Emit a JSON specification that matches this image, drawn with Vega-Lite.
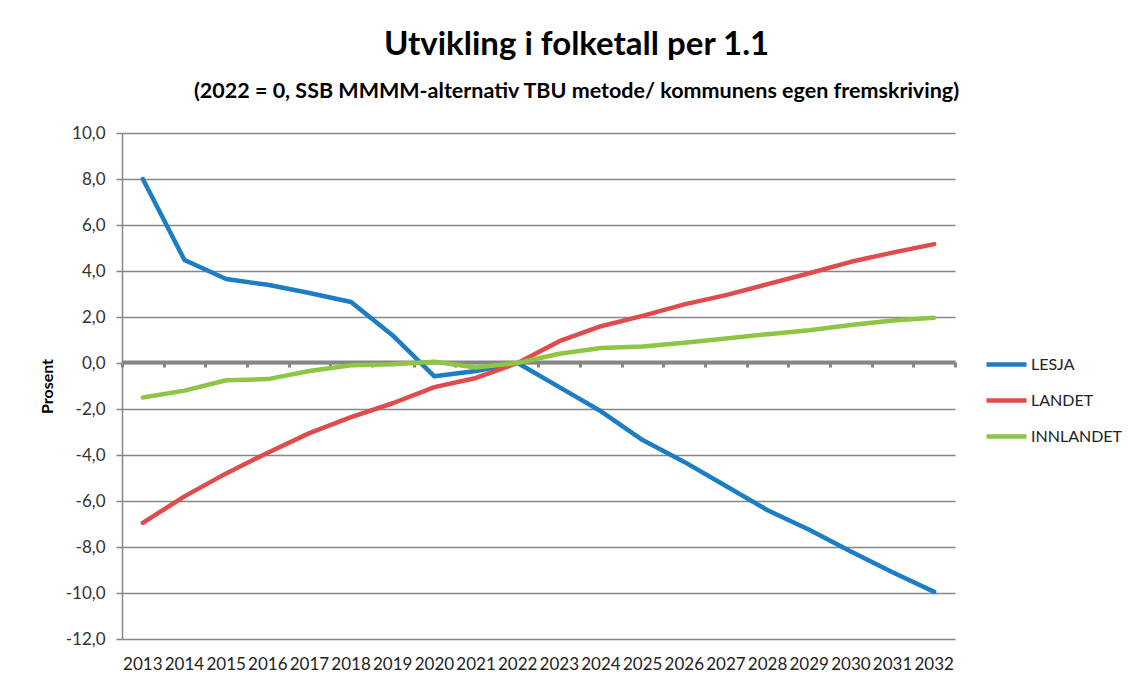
{
  "$schema": "https://vega.github.io/schema/vega-lite/v6.json",
  "width": 833,
  "height": 506,
  "autosize": "none",
  "padding": {"left": 122, "top": 133, "right": 175, "bottom": 45},
  "background": "white",
  "title": {
    "text": "Utvikling i folketall per 1.1",
    "subtitle": "(2022 = 0, SSB MMMM-alternativ TBU metode/ kommunens  egen fremskriving)",
    "anchor": "middle",
    "dx": 38,
    "offset": 22,
    "font": "Lato",
    "fontSize": 33,
    "fontWeight": "bold",
    "color": "#000",
    "subtitleFont": "Lato",
    "subtitleFontSize": 21.5,
    "subtitleFontWeight": "bold",
    "subtitleColor": "#000",
    "subtitlePadding": 19
  },
  "data": {
    "values": [
      {"year": "2013", "serie": "LESJA", "v": 8.0},
      {"year": "2014", "serie": "LESJA", "v": 4.48},
      {"year": "2015", "serie": "LESJA", "v": 3.65},
      {"year": "2016", "serie": "LESJA", "v": 3.4},
      {"year": "2017", "serie": "LESJA", "v": 3.04},
      {"year": "2018", "serie": "LESJA", "v": 2.65},
      {"year": "2019", "serie": "LESJA", "v": 1.2},
      {"year": "2020", "serie": "LESJA", "v": -0.58},
      {"year": "2021", "serie": "LESJA", "v": -0.35},
      {"year": "2022", "serie": "LESJA", "v": 0.0},
      {"year": "2023", "serie": "LESJA", "v": -1.05},
      {"year": "2024", "serie": "LESJA", "v": -2.1},
      {"year": "2025", "serie": "LESJA", "v": -3.35},
      {"year": "2026", "serie": "LESJA", "v": -4.3},
      {"year": "2027", "serie": "LESJA", "v": -5.35},
      {"year": "2028", "serie": "LESJA", "v": -6.4},
      {"year": "2029", "serie": "LESJA", "v": -7.25},
      {"year": "2030", "serie": "LESJA", "v": -8.2},
      {"year": "2031", "serie": "LESJA", "v": -9.1},
      {"year": "2032", "serie": "LESJA", "v": -9.95},
      {"year": "2013", "serie": "LANDET", "v": -6.95},
      {"year": "2014", "serie": "LANDET", "v": -5.8},
      {"year": "2015", "serie": "LANDET", "v": -4.8},
      {"year": "2016", "serie": "LANDET", "v": -3.9},
      {"year": "2017", "serie": "LANDET", "v": -3.05},
      {"year": "2018", "serie": "LANDET", "v": -2.35},
      {"year": "2019", "serie": "LANDET", "v": -1.75},
      {"year": "2020", "serie": "LANDET", "v": -1.05},
      {"year": "2021", "serie": "LANDET", "v": -0.65},
      {"year": "2022", "serie": "LANDET", "v": 0.0},
      {"year": "2023", "serie": "LANDET", "v": 0.95},
      {"year": "2024", "serie": "LANDET", "v": 1.6},
      {"year": "2025", "serie": "LANDET", "v": 2.05},
      {"year": "2026", "serie": "LANDET", "v": 2.55},
      {"year": "2027", "serie": "LANDET", "v": 2.95},
      {"year": "2028", "serie": "LANDET", "v": 3.43},
      {"year": "2029", "serie": "LANDET", "v": 3.9},
      {"year": "2030", "serie": "LANDET", "v": 4.4},
      {"year": "2031", "serie": "LANDET", "v": 4.8},
      {"year": "2032", "serie": "LANDET", "v": 5.17},
      {"year": "2013", "serie": "INNLANDET", "v": -1.5},
      {"year": "2014", "serie": "INNLANDET", "v": -1.2},
      {"year": "2015", "serie": "INNLANDET", "v": -0.75},
      {"year": "2016", "serie": "INNLANDET", "v": -0.7},
      {"year": "2017", "serie": "INNLANDET", "v": -0.35},
      {"year": "2018", "serie": "INNLANDET", "v": -0.1},
      {"year": "2019", "serie": "INNLANDET", "v": -0.05},
      {"year": "2020", "serie": "INNLANDET", "v": 0.05},
      {"year": "2021", "serie": "INNLANDET", "v": -0.2},
      {"year": "2022", "serie": "INNLANDET", "v": 0.0},
      {"year": "2023", "serie": "INNLANDET", "v": 0.4},
      {"year": "2024", "serie": "INNLANDET", "v": 0.65},
      {"year": "2025", "serie": "INNLANDET", "v": 0.72},
      {"year": "2026", "serie": "INNLANDET", "v": 0.88},
      {"year": "2027", "serie": "INNLANDET", "v": 1.07},
      {"year": "2028", "serie": "INNLANDET", "v": 1.25},
      {"year": "2029", "serie": "INNLANDET", "v": 1.42},
      {"year": "2030", "serie": "INNLANDET", "v": 1.65},
      {"year": "2031", "serie": "INNLANDET", "v": 1.85},
      {"year": "2032", "serie": "INNLANDET", "v": 1.97}
    ]
  },
  "layer": [
    {
      "mark": {"type": "line", "strokeWidth": 4.5, "strokeCap": "round", "strokeJoin": "round"},
      "encoding": {
        "x": {
          "field": "year", "type": "ordinal",
          "scale": {"type": "band", "paddingInner": 0, "paddingOuter": 0},
          "axis": {
            "orient": "bottom",
            "title": null,
            "domain": false,
            "ticks": false,
            "grid": false,
            "labelAngle": 0,
            "labelFont": "Lato",
            "labelFontSize": 17,
            "labelColor": "#222",
            "labelPadding": 17,
            "labelOverlap": false
          }
        },
        "y": {
          "field": "v", "type": "quantitative",
          "scale": {"domain": [-12, 10], "nice": false, "zero": false},
          "axis": {
            "values": [-12, -10, -8, -6, -4, -2, 0, 2, 4, 6, 8, 10],
            "labelExpr": "replace(replace(format(datum.value, '.1f'), '.', ','), '\u2212', '-')",
            "title": "Prosent",
            "titleFont": "Lato",
            "titleFontSize": 16,
            "titleFontWeight": "bold",
            "titleColor": "#000",
            "titlePadding": 10,
            "labelFont": "Lato",
            "labelFontSize": 17,
            "labelColor": "#333",
            "labelPadding": 11,
            "domain": true,
            "domainColor": "#868686",
            "domainWidth": 1.5,
            "ticks": true,
            "tickColor": "#868686",
            "tickWidth": 1.5,
            "tickSize": 6,
            "grid": true,
            "gridColor": "#868686",
            "gridWidth": 1.5
          }
        },
        "color": {
          "field": "serie", "type": "nominal",
          "scale": {
            "domain": ["LESJA", "LANDET", "INNLANDET"],
            "range": ["#1C7DC4", "#E04B4B", "#8DC544"]
          },
          "legend": {
            "title": null,
            "orient": "none",
            "legendX": 862,
            "legendY": 209,
            "symbolType": "stroke",
            "symbolSize": 1600,
            "symbolStrokeWidth": 4.5,
            "labelFont": "Lato",
            "labelFontSize": 16,
            "labelColor": "#222",
            "labelOffset": 2,
            "rowPadding": 4
          }
        }
      }
    },
    {
      "mark": {"type": "point", "opacity": 0},
      "encoding": {
        "x": {
          "field": "year", "type": "ordinal",
          "scale": {"type": "band", "paddingInner": 0, "paddingOuter": 0},
          "axis": {
            "orient": "bottom",
            "offset": -277,
            "labels": false,
            "title": null,
            "grid": false,
            "domain": true,
            "domainColor": "#868686",
            "domainWidth": 4,
            "ticks": true,
            "tickBand": "extent",
            "tickColor": "#868686",
            "tickWidth": 3,
            "tickSize": 5
          }
        }
      }
    }
  ],
  "resolve": {"axis": {"x": "independent"}},
  "config": {"view": {"stroke": null}}
}
